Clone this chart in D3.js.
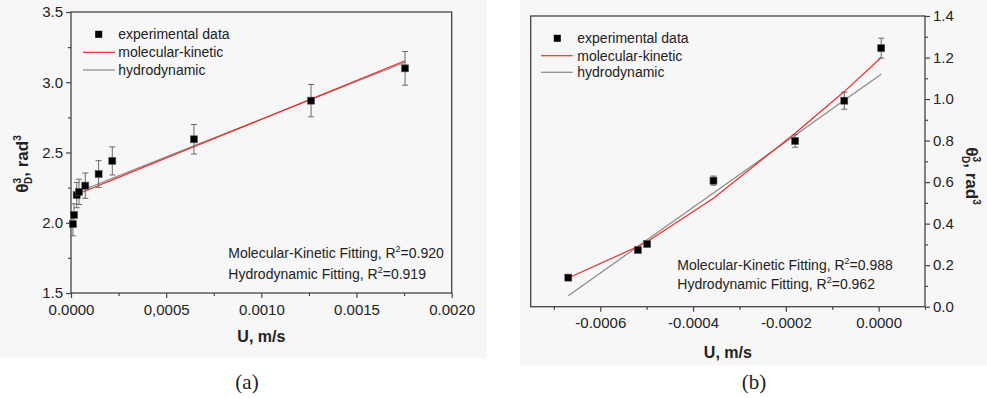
<!DOCTYPE html>
<html>
<head>
<meta charset="utf-8">
<script src="https://cdn.jsdelivr.net/npm/d3@7"></script>
<style>
  body { margin: 0; background: #fff; }
  text { font-family: "Liberation Sans", Arial, sans-serif; fill: #222; }
</style>
</head>
<body>
<svg id="chart" width="987" height="398"></svg>
<script>
// ---- panel (a): spreading on the positive side ----
const uA = [0.00001, 0.000016, 0.00003, 0.000042, 0.000075, 0.000145, 0.000217, 0.000646, 0.001261, 0.001755];
const thetaA = [1.99, 2.055, 2.197, 2.22, 2.264, 2.347, 2.44, 2.594, 2.869, 3.099];
const errA = [0.083, 0.08, 0.09, 0.09, 0.09, 0.095, 0.1, 0.105, 0.115, 0.12];
const mkA = [2.19, 2.194, 2.2015, 2.208, 2.226, 2.265, 2.305, 2.541, 2.88, 3.153];
const hdA = [2.205, 2.209, 2.216, 2.223, 2.24, 2.278, 2.317, 2.547, 2.877, 3.142];
const xTicksA = [0, 0.0005, 0.001, 0.0015, 0.002];
const xLabelsA = ["0.0000", "0,0005", "0.0010", "0.0015", "0.0020"];
const xMinorA = [0.00025, 0.00075, 0.00125, 0.00175];
const yTicksA = [1.5, 2.0, 2.5, 3.0, 3.5];
const yLabelsA = ["1.5", "2.0", "2.5", "3.0", "3.5"];
const yMinorA = [1.75, 2.25, 2.75, 3.25];
const fitTextA = ["0.920", "0.919"];

// ---- panel (b): receding side ----
const uB = [-0.000669, -0.000519, -0.000499, -0.000356, -0.00018, -0.000074, 0.0000056];
const thetaB = [0.14, 0.273, 0.302, 0.607, 0.798, 0.992, 1.245];
const errB = [0.01, 0.01, 0.01, 0.022, 0.03, 0.041, 0.048];
const mkB = [0.138, 0.29, 0.313, 0.522, 0.835, 1.036, 1.2];
const hdB = [0.053, 0.29, 0.322, 0.548, 0.826, 0.994, 1.119];
const xTicksB = [-0.0006, -0.0004, -0.0002, 0];
const xLabelsB = ["-0.0006", "-0.0004", "-0.0002", "0.0000"];
const xMinorB = [-0.0007, -0.0005, -0.0003, -0.0001, 0.0001];
const yTicksB = [0, 0.2, 0.4, 0.6, 0.8, 1.0, 1.2, 1.4];
const yLabelsB = ["0.0", "0.2", "0.4", "0.6", "0.8", "1.0", "1.2", "1.4"];
const yMinorB = [0.1, 0.3, 0.5, 0.7, 0.9, 1.1, 1.3];
const fitTextB = ["0.988", "0.962"];

const legendNames = ["experimental data", "molecular-kinetic", "hydrodynamic"];
const RED = "#ee2a2a", GRAY = "#8a8a8a";

const svg = d3.select("#chart");

function drawPanel(p) {
  // faint paper tone behind each figure
  svg.append("rect").attr("x", p.bg[0]).attr("y", p.bg[1])
    .attr("width", p.bg[2]).attr("height", p.bg[3]).attr("fill", "#f7f7f7");

  const x = d3.scaleLinear().domain(p.xDomain).range([p.left, p.right]);
  const y = d3.scaleLinear().domain(p.yDomain).range([p.bottom, p.top]);
  const g = svg.append("g");

  // frame
  g.append("rect")
    .attr("x", p.left).attr("y", p.top)
    .attr("width", p.right - p.left).attr("height", p.bottom - p.top)
    .attr("fill", "none").attr("stroke", "#444").attr("stroke-width", 1.3);

  // x axis (major + minor)
  const xAx = g.append("g").attr("transform", `translate(0,${p.bottom})`)
    .call(d3.axisBottom(x).tickValues(p.xTicks).tickSize(5).tickPadding(6)
      .tickFormat((d, i) => p.xLabels[i]));
  const xMin = g.append("g").attr("transform", `translate(0,${p.bottom})`)
    .call(d3.axisBottom(x).tickValues(p.xMinor).tickSize(3).tickFormat(""));

  // y axis, on the left for (a), on the right for (b)
  const yAxis = p.yRight ? d3.axisRight(y) : d3.axisLeft(y);
  const yMinorAxis = p.yRight ? d3.axisRight(y) : d3.axisLeft(y);
  const yX = p.yRight ? p.right : p.left;
  const yAx = g.append("g").attr("transform", `translate(${yX},0)`)
    .call(yAxis.tickValues(p.yTicks).tickSize(5).tickPadding(3)
      .tickFormat((d, i) => p.yLabels[i]));
  const yMin = g.append("g").attr("transform", `translate(${yX},0)`)
    .call(yMinorAxis.tickValues(p.yMinor).tickSize(3).tickFormat(""));

  [xAx, xMin, yAx, yMin].forEach(a => {
    a.select(".domain").remove();
    a.selectAll("line").attr("stroke", "#444").attr("stroke-width", 1.2);
    a.selectAll("text").style("font-size", "15px").attr("fill", "#222")
      .style("font-family", "'Liberation Sans', Arial, sans-serif");
  });

  // axis titles
  g.append("text")
    .attr("x", (p.left + p.right) / 2 + p.xTitleDx).attr("y", p.xTitleY)
    .attr("text-anchor", "middle")
    .style("font-size", "16px").style("font-weight", "bold")
    .text("U, m/s");

  const yt = g.append("text")
    .attr("transform", `translate(${p.yTitle[0]},${p.yTitle[1]}) rotate(${p.yRight ? 90 : -90})`)
    .attr("text-anchor", "middle")
    .style("font-size", "17px").style("font-weight", "bold");
  yt.append("tspan").text("\u03b8");
  yt.append("tspan").attr("dy", -7).style("font-size", "10px").text("3");
  yt.append("tspan").attr("dx", -6).attr("dy", 11).style("font-size", "10px").text("D");
  yt.append("tspan").attr("dy", -4).text(", rad");
  yt.append("tspan").attr("dy", -7).style("font-size", "10px").text("3");

  // panel letter
  g.append("text")
    .attr("x", p.letter[0]).attr("y", p.letter[1])
    .attr("text-anchor", "middle")
    .style("font-family", "'Liberation Serif', 'Times New Roman', serif")
    .style("font-size", "21px").attr("fill", "#111")
    .text(p.letterText);

  // fitted curves
  const line = d3.line().x(d => x(d[0])).y(d => y(d[1]));
  g.append("path").datum(p.u.map((u, i) => [u, p.hd[i]]))
    .attr("d", line).attr("fill", "none").attr("stroke", GRAY).attr("stroke-width", 1.2);
  g.append("path").datum(p.u.map((u, i) => [u, p.mk[i]]))
    .attr("d", line).attr("fill", "none").attr("stroke", RED).attr("stroke-width", 1.2);

  // error bars
  const pts = p.u.map((u, i) => ({ u, v: p.theta[i], e: p.err[i] }));
  const eb = g.selectAll(".eb").data(pts).enter().append("g")
    .attr("stroke", "#6a6a6a").attr("stroke-width", 1);
  eb.append("line")
    .attr("x1", d => x(d.u)).attr("x2", d => x(d.u))
    .attr("y1", d => y(d.v - d.e)).attr("y2", d => y(d.v + d.e));
  eb.append("line")
    .attr("x1", d => x(d.u) - 3).attr("x2", d => x(d.u) + 3)
    .attr("y1", d => y(d.v + d.e)).attr("y2", d => y(d.v + d.e));
  eb.append("line")
    .attr("x1", d => x(d.u) - 3).attr("x2", d => x(d.u) + 3)
    .attr("y1", d => y(d.v - d.e)).attr("y2", d => y(d.v - d.e));

  // markers
  g.selectAll(".pt").data(pts).enter().append("rect")
    .attr("x", d => x(d.u) - 3.5).attr("y", d => y(d.v) - 3.5)
    .attr("width", 7).attr("height", 7)
    .attr("fill", "#000").attr("stroke", "#555").attr("stroke-width", 0.6);

  // legend
  const lg = g.append("g");
  const L = p.legend;
  lg.append("rect").attr("x", L.marker - 3.5).attr("y", L.rows[0] - 3.5)
    .attr("width", 7).attr("height", 7).attr("fill", "#000");
  lg.append("line").attr("x1", L.lineX[0]).attr("x2", L.lineX[1])
    .attr("y1", L.rows[1]).attr("y2", L.rows[1]).attr("stroke", RED).attr("stroke-width", 1.2);
  lg.append("line").attr("x1", L.lineX[0]).attr("x2", L.lineX[1])
    .attr("y1", L.rows[2]).attr("y2", L.rows[2]).attr("stroke", GRAY).attr("stroke-width", 1.2);
  legendNames.forEach((name, i) => {
    lg.append("text").attr("x", L.text).attr("y", L.rows[i]).attr("dy", "0.35em")
      .style("font-size", "14px").text(name);
  });

  // fit quality notes
  ["Molecular-Kinetic Fitting, R", "Hydrodynamic Fitting, R"].forEach((lab, i) => {
    const t = g.append("text").attr("x", p.note[0]).attr("y", p.note[1] + i * p.noteGap)
      .attr("dy", "0.35em").style("font-size", "14px").attr("fill", "#333");
    t.append("tspan").text(lab);
    t.append("tspan").attr("dy", -6).style("font-size", "9px").text("2");
    t.append("tspan").attr("dy", 6).text("=" + p.fit[i]);
  });
}

drawPanel({
  bg: [0, 0, 487, 358],
  left: 71, right: 451.7, top: 12, bottom: 293,
  xDomain: [0, 0.002], yDomain: [1.5, 3.5],
  xTicks: xTicksA, xLabels: xLabelsA, xMinor: xMinorA,
  yTicks: yTicksA, yLabels: yLabelsA, yMinor: yMinorA,
  yRight: false,
  u: uA, theta: thetaA, err: errA, mk: mkA, hd: hdA,
  xTitleY: 342, xTitleDx: 0,
  yTitle: [28, 164],
  letter: [247, 389], letterText: "(a)",
  legend: { marker: 98.7, text: 118.3, lineX: [83, 115], rows: [34.3, 52.3, 70] },
  note: [228.3, 253.3], noteGap: 20.7, fit: fitTextA
});

drawPanel({
  bg: [520, 0, 467, 365],
  left: 530.7, right: 925, top: 16, bottom: 306.7,
  xDomain: [-0.00075, 0.0001], yDomain: [0, 1.4],
  xTicks: xTicksB, xLabels: xLabelsB, xMinor: xMinorB,
  yTicks: yTicksB, yLabels: yLabelsB, yMinor: yMinorB,
  yRight: true,
  u: uB, theta: thetaB, err: errB, mk: mkB, hd: hdB,
  xTitleY: 358, xTitleDx: 0,
  yTitle: [966, 176],
  letter: [754, 389], letterText: "(b)",
  legend: { marker: 557.3, text: 577.3, lineX: [541, 572.7], rows: [38.3, 55.7, 72.3] },
  note: [677.3, 265], noteGap: 19.3, fit: fitTextB
});
</script>
</body>
</html>
